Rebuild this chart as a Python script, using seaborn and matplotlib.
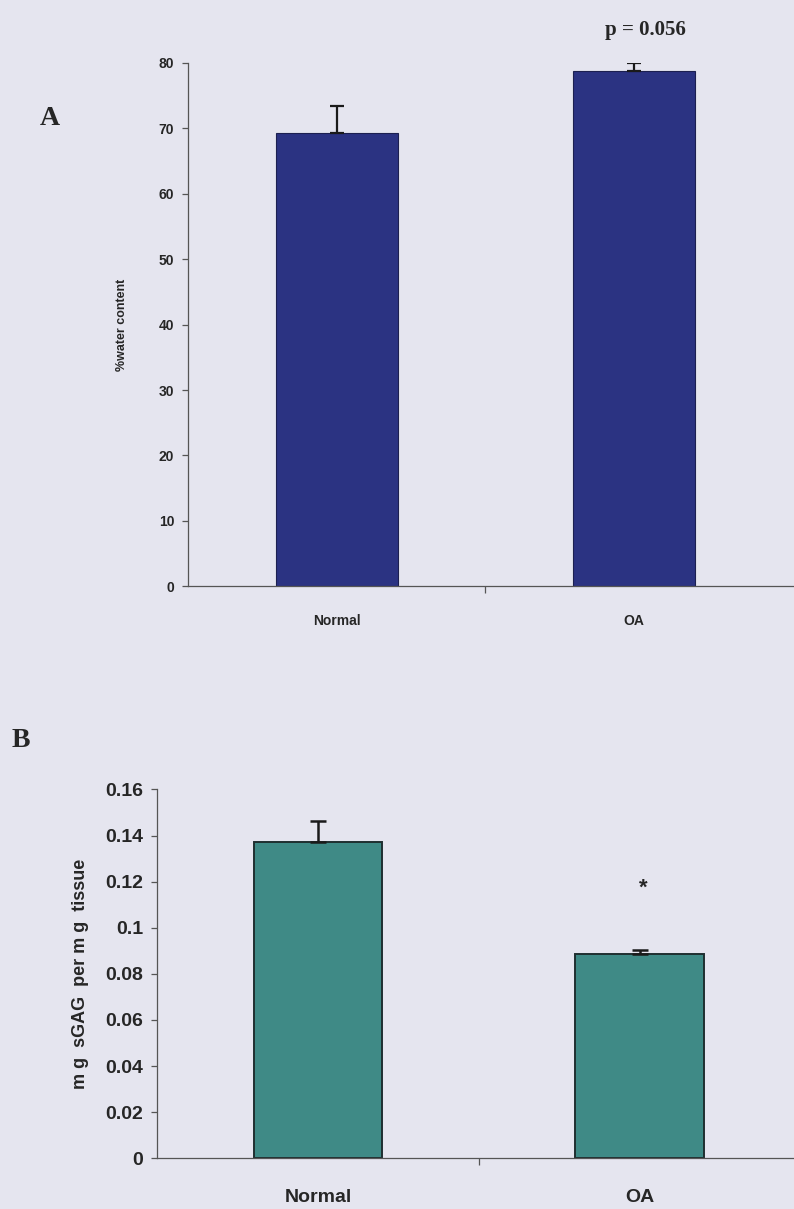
import numpy as np
import pandas as pd
import matplotlib.pyplot as plt
import seaborn as sns

# Data
groups = ['Normal', 'OA']
water_mean = [69.3, 78.7]
water_err = [4.1, 1.3]
gag_mean = [0.137, 0.0885]
gag_err = [0.0095, 0.0017]

bg = '#e5e5ef'
navy = '#2b3382'
teal = '#3f8a86'

sns.set_theme(style='white')
plt.rcParams['font.family'] = ['Liberation Sans', 'DejaVu Sans']

fig = plt.figure(figsize=(7.94, 12.09), dpi=100, facecolor=bg)


def style_axes(ax):
    for s in ['top', 'right']:
        ax.spines[s].set_visible(False)
    for s in ['left', 'bottom']:
        ax.spines[s].set_color('#555555')
        ax.spines[s].set_linewidth(0.9)
    ax.set_xticks([0.5], minor=True)
    ax.tick_params(axis='x', which='minor', bottom=True, length=5, width=0.9,
                   color='#555555', direction='out')
    for lab in ax.get_yticklabels() + ax.get_xticklabels():
        lab.set_fontweight('bold')


# Panel A
dfa = pd.DataFrame({'group': groups, 'water': water_mean})
axA = fig.add_axes([0.237, 0.515, 0.763, 0.433], facecolor=bg)
sns.barplot(data=dfa, x='group', y='water', color=navy, width=0.41,
            saturation=1, errorbar=None, ax=axA, edgecolor='#1c2050', linewidth=0.8)
axA.errorbar(range(len(groups)), water_mean, yerr=[[0, 0], water_err],
             fmt='none', ecolor='#1a1a1a', elinewidth=1.6, capsize=5, capthick=1.6)
axA.set_ylim(0, 80)
axA.set_xlim(-0.5, 1.54)
axA.set_yticks(range(0, 81, 10))
axA.set_xlabel('')
axA.set_ylabel('%water content', fontsize=9, fontweight='bold', labelpad=22)
axA.tick_params(axis='y', left=True, labelsize=10, length=4, width=0.9,
                color='#555555', pad=6, direction='out')
axA.tick_params(axis='x', labelsize=10, length=0, pad=20)
style_axes(axA)
axA.text(1.04, 85.0, 'p = 0.056', ha='center', va='center', fontsize=15,
         fontweight='bold', family='Liberation Serif')
fig.text(0.05, 0.897, 'A', fontsize=20, fontweight='bold', family='Liberation Serif')

# Panel B
dfb = pd.DataFrame({'group': groups, 'gag': gag_mean})
axB = fig.add_axes([0.198, 0.042, 0.802, 0.305], facecolor=bg)
sns.barplot(data=dfb, x='group', y='gag', color=teal, width=0.40,
            saturation=1, errorbar=None, ax=axB, edgecolor='#1f2f30', linewidth=1.4)
axB.errorbar(range(len(groups)), gag_mean, yerr=[[0, 0], gag_err],
             fmt='none', ecolor='#1a1a1a', elinewidth=1.8, capsize=6, capthick=1.8)
axB.set_ylim(0, 0.16)
axB.set_xlim(-0.5, 1.48)
axB.set_yticks(np.arange(0, 0.161, 0.02))
axB.set_yticklabels(['0', '0.02', '0.04', '0.06', '0.08', '0.1', '0.12', '0.14', '0.16'])
axB.set_xlabel('')
axB.set_ylabel('m g  sGAG  per m g  tissue', fontsize=13, fontweight='bold', labelpad=12)
axB.tick_params(axis='y', left=True, labelsize=14, length=4, width=0.9,
                color='#555555', pad=6, direction='out')
axB.tick_params(axis='x', labelsize=14, length=0, pad=22)
style_axes(axB)
axB.text(1.01, 0.117, '*', ha='center', va='center', fontsize=16, fontweight='bold')
fig.text(0.015, 0.382, 'B', fontsize=20, fontweight='bold', family='Liberation Serif')

fig.savefig('out.png', dpi=100, facecolor=bg)
